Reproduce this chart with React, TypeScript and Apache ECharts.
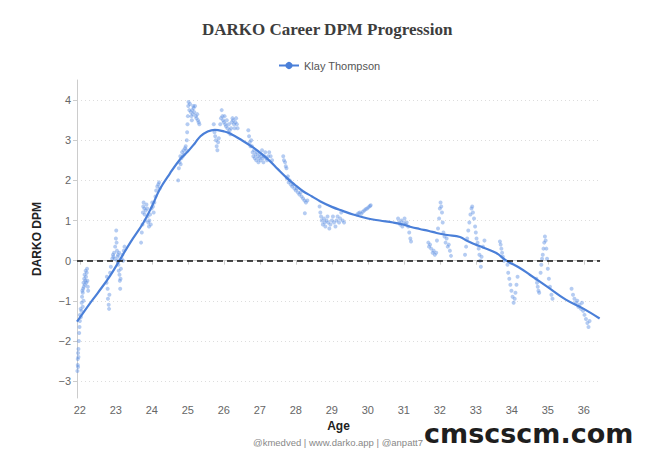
import React, { useEffect, useRef } from "react";
import * as echarts from "echarts";

const playerName = "Klay Thompson";

// smoothed career trend: [age, DPM]
const trendAges = [
  21.92, 22.25, 22.5, 22.83, 23.11, 23.4, 23.76, 24.0, 24.22, 24.5, 24.78, 25.0, 25.19, 25.35,
  25.55, 25.75, 26.0, 26.17, 26.5, 26.81, 27.05, 27.28, 27.5, 27.74, 28.0, 28.2, 28.45, 28.67,
  29.0, 29.3, 29.59, 30.0, 30.33, 30.7, 30.98, 31.2, 31.44, 31.7, 31.91, 32.2, 32.56, 32.74,
  33.0, 33.2, 33.57, 33.85, 34.2, 34.5, 35.0, 35.5, 36.0, 36.44,
];
const trendDpm = [
  -1.52, -1.1, -0.8, -0.39, 0.02, 0.45, 0.94, 1.35, 1.78, 2.17, 2.52, 2.72, 2.92, 3.1,
  3.22, 3.26, 3.22, 3.17, 3.0, 2.82, 2.66, 2.48, 2.28, 2.07, 1.87, 1.73, 1.6, 1.48,
  1.34, 1.24, 1.15, 1.05, 1.0, 0.95, 0.9, 0.84, 0.79, 0.74, 0.69, 0.64, 0.59, 0.5,
  0.4, 0.33, 0.19, 0.0, -0.17, -0.35, -0.66, -0.97, -1.2, -1.44,
];

// daily DARKO estimates: [age, DPM]
const dailyPoints = [
  [21.93, -2.75], [21.94, -2.6], [21.94, -2.45], [21.95, -2.3], [21.95, -2.65], [21.96, -2.4], [21.96, -2.2],
  [21.97, -2.0], [21.98, -1.8], [21.99, -1.65], [22.0, -1.5], [22.0, -1.35], [22.02, -1.2],
  [22.03, -1.4], [22.04, -1.25], [22.05, -1.05], [22.06, -0.9], [22.07, -0.75], [22.08, -0.8], [22.09, -0.7],
  [22.1, -0.55], [22.11, -0.65], [22.12, -0.45], [22.13, -0.35], [22.14, -0.6], [22.15, -0.5], [22.16, -0.25],
  [22.17, -0.4], [22.18, -0.55], [22.19, -0.3], [22.2, -0.2], [22.21, -0.5], [22.22, -0.65], [22.23, -0.75],
  [22.1, -1.0], [22.08, -1.15],
  [22.74, -0.55], [22.75, -0.4], [22.77, -0.7], [22.78, -0.95], [22.8, -1.1], [22.81, -1.2], [22.82, -0.85],
  [22.84, -0.3], [22.86, -0.15],
  [22.9, 0.05], [22.92, 0.15], [22.93, 0.1], [22.95, 0.2], [22.97, 0.05], [22.98, 0.35], [23.0, 0.55],
  [23.01, 0.75], [23.02, 0.45], [23.03, 0.25], [23.04, 0.0], [23.05, 0.1], [23.07, -0.1], [23.08, -0.25],
  [23.1, -0.35], [23.11, -0.5], [23.12, -0.7], [23.13, -0.45], [23.14, -0.2], [23.16, 0.05], [23.18, 0.15],
  [23.2, 0.0], [23.22, 0.25], [23.24, 0.35], [23.06, 0.15], [23.09, 0.2],
  [23.7, 0.45], [23.72, 0.7], [23.74, 0.9], [23.75, 1.2], [23.76, 1.35], [23.77, 1.45], [23.79, 1.3],
  [23.8, 1.15], [23.82, 1.0], [23.83, 1.25], [23.85, 1.4], [23.87, 1.3], [23.88, 1.1], [23.9, 0.95],
  [23.92, 0.85], [23.93, 1.0], [23.95, 1.15], [23.97, 0.9], [23.99, 1.3], [24.01, 1.45], [24.03, 1.35],
  [24.05, 1.2], [24.07, 1.45], [24.1, 1.6], [24.12, 1.75], [24.15, 1.85], [24.18, 1.9], [24.2, 1.95], [24.22, 1.8],
  [24.73, 2.0], [24.75, 2.3], [24.77, 2.45], [24.79, 2.6], [24.8, 2.4], [24.82, 2.55], [24.84, 2.7],
  [24.86, 2.6], [24.88, 2.75], [24.9, 2.65], [24.92, 2.8], [24.94, 2.85], [24.96, 2.75],
  [24.97, 3.0], [24.98, 3.2], [24.99, 3.4], [25.0, 3.6], [25.01, 3.85], [25.02, 3.95], [25.04, 3.75],
  [25.06, 3.9], [25.08, 3.7], [25.1, 3.6], [25.12, 3.75], [25.14, 3.65], [25.16, 3.8], [25.18, 3.7],
  [25.2, 3.85], [25.22, 3.6], [25.24, 3.55], [25.26, 3.65], [25.28, 3.5], [25.3, 3.45], [25.32, 3.4],
  [25.11, 3.5], [25.15, 3.85],
  [25.72, 3.4], [25.74, 3.2], [25.76, 3.1], [25.78, 3.0], [25.8, 2.85], [25.82, 2.75], [25.84, 2.95], [25.86, 3.05],
  [25.9, 3.4], [25.92, 3.55], [25.94, 3.75], [25.96, 3.6], [25.98, 3.5], [26.0, 3.45], [26.02, 3.6],
  [26.04, 3.4], [26.06, 3.35], [26.08, 3.5], [26.1, 3.3], [26.12, 3.2], [26.14, 3.4], [26.16, 3.25],
  [26.18, 3.15], [26.2, 3.3], [26.22, 3.45], [26.24, 3.55], [26.26, 3.5], [26.28, 3.4], [26.3, 3.3],
  [26.32, 3.45], [26.34, 3.55], [26.36, 3.4], [26.38, 3.3],
  [26.68, 3.25], [26.7, 3.1], [26.72, 2.95], [26.74, 2.85], [26.76, 3.0],
  [26.78, 2.85], [26.8, 2.7], [26.82, 2.6], [26.84, 2.75], [26.86, 2.55], [26.88, 2.65], [26.9, 2.5],
  [26.92, 2.7], [26.94, 2.6], [26.96, 2.45], [26.98, 2.55], [27.0, 2.65], [27.02, 2.5], [27.04, 2.6],
  [27.06, 2.75], [27.08, 2.55], [27.1, 2.45], [27.12, 2.6], [27.15, 2.7], [27.18, 2.55], [27.2, 2.5],
  [27.23, 2.6], [27.26, 2.7], [27.3, 2.6], [27.34, 2.5],
  [27.65, 2.6], [27.67, 2.5], [27.7, 2.45], [27.72, 2.35], [27.74, 2.3],
  [27.75, 2.05], [27.78, 2.1], [27.8, 1.95], [27.83, 2.0], [27.86, 1.9], [27.9, 1.85], [27.93, 1.9],
  [27.96, 1.8], [28.0, 1.75], [28.03, 1.8], [28.06, 1.7], [28.1, 1.65], [28.13, 1.7], [28.16, 1.6],
  [28.2, 1.55], [28.24, 1.5], [28.28, 1.45], [28.32, 1.5], [28.25, 1.18],
  [28.66, 1.35], [28.68, 1.2], [28.7, 1.1], [28.72, 1.0], [28.75, 0.9], [28.78, 1.05], [28.8, 0.95],
  [28.82, 0.85], [28.85, 1.0], [28.88, 1.1], [28.9, 0.95], [28.93, 0.8], [28.96, 0.9], [29.0, 1.0],
  [29.03, 1.1], [29.06, 0.95], [29.1, 0.85], [29.13, 1.0], [29.16, 1.1], [29.2, 0.95], [29.23, 1.05],
  [29.26, 1.2], [29.3, 1.0], [29.34, 0.95],
  [29.7, 1.15], [29.74, 1.18], [29.78, 1.2], [29.82, 1.17], [29.86, 1.22], [29.9, 1.25], [29.94, 1.28],
  [29.98, 1.3], [30.02, 1.33], [30.06, 1.36], [30.08, 1.38],
  [30.84, 1.05], [30.87, 0.95], [30.9, 0.9], [30.93, 1.0], [30.96, 0.85], [30.99, 0.95], [31.02, 1.05],
  [31.05, 0.9], [31.08, 0.95], [31.12, 0.85], [31.15, 0.7], [31.18, 0.55], [31.2, 0.48],
  [31.68, 0.45], [31.7, 0.35], [31.73, 0.4], [31.76, 0.3], [31.8, 0.2], [31.83, 0.25], [31.86, 0.15], [31.9, 0.2],
  [31.92, 0.5], [31.95, 0.8], [31.98, 1.05], [32.0, 1.3], [32.02, 1.45], [32.04, 1.35], [32.06, 1.2],
  [32.08, 0.95], [32.1, 0.7], [32.13, 0.6], [32.16, 0.45], [32.19, 0.55], [32.22, 0.35], [32.25, 0.4],
  [32.28, 0.25], [32.31, 0.12],
  [32.7, 0.15], [32.73, 0.35], [32.76, 0.55], [32.79, 0.75], [32.82, 0.95], [32.85, 1.15], [32.88, 1.3],
  [32.9, 1.35], [32.92, 1.2], [32.95, 1.05], [32.98, 0.85], [33.0, 0.7], [33.02, 0.55], [33.05, 0.45],
  [33.08, 0.3], [33.1, 0.15], [33.12, 0.0], [33.14, -0.15], [33.16, 0.1], [33.2, 0.35], [33.24, 0.5],
  [33.67, 0.48], [33.69, 0.4], [33.71, 0.3], [33.73, 0.2], [33.75, 0.1], [33.78, 0.0],
  [33.88, -0.1], [33.9, -0.3], [33.93, -0.45], [33.96, -0.6], [33.99, -0.75], [34.02, -0.9], [34.05, -1.05],
  [34.08, -0.95], [34.1, -0.8], [34.13, -0.6], [34.16, -0.4],
  [34.68, -0.45], [34.7, -0.55], [34.72, -0.65], [34.74, -0.75], [34.76, -0.8],
  [34.8, -0.3], [34.82, -0.1], [34.84, 0.05], [34.86, 0.15], [34.88, 0.3], [34.9, 0.45], [34.92, 0.6],
  [34.94, 0.5], [34.96, 0.3], [34.98, 0.05], [35.0, -0.2], [35.03, -0.45], [35.06, -0.65], [35.1, -0.85], [35.13, -0.95],
  [35.66, -0.7], [35.7, -0.85], [35.74, -0.95], [35.78, -1.05], [35.82, -1.0], [35.85, -1.15], [35.88, -1.1],
  [35.92, -1.2], [35.95, -1.05], [35.98, -1.25], [36.02, -1.35], [36.06, -1.45], [36.1, -1.55], [36.13, -1.65], [36.16, -1.5],
];

const App = () => {
  const chartRef = useRef<HTMLDivElement>(null);

  useEffect(() => {
    document.body.style.margin = "0";
    const chart = echarts.init(chartRef.current, null, { renderer: "svg" });

    const option = {
      animation: false,
      backgroundColor: "#ffffff",
      title: {
        text: "DARKO Career DPM Progression",
        left: 197,
        top: 16,
        textStyle: { fontFamily: "Liberation Serif", fontWeight: "bold", fontSize: 17, color: "#3d3d3d" },
      },
      legend: {
        data: [playerName],
        top: 55,
        left: 273,
        itemWidth: 20,
        itemHeight: 9,
        itemGap: 6,
        textStyle: { fontFamily: "Liberation Sans", fontSize: 11, color: "#555" },
      },
      grid: { left: 77, right: 60, top: 80, bottom: 63 },
      xAxis: {
        type: "value",
        min: 21.92,
        max: 36.45,
        splitNumber: 14,
        minInterval: 1,
        maxInterval: 1,
        name: "Age",
        nameLocation: "middle",
        nameGap: 21,
        nameTextStyle: { fontFamily: "Liberation Sans", fontWeight: "bold", fontSize: 12, color: "#222" },
        axisLine: { show: true, lineStyle: { color: "#ccc" } },
        axisTick: { show: true, length: 4, lineStyle: { color: "#ccc" } },
        axisLabel: {
          showMinLabel: false,
          showMaxLabel: false,
          fontFamily: "Liberation Sans",
          fontSize: 11,
          color: "#666",
          margin: 6,
        },
        splitLine: { show: false },
      },
      yAxis: {
        type: "value",
        min: -3.42,
        max: 4.5,
        splitNumber: 8,
        minInterval: 1,
        maxInterval: 1,
        name: "DARKO DPM",
        nameLocation: "middle",
        nameGap: 34,
        nameTextStyle: { fontFamily: "Liberation Sans", fontWeight: "bold", fontSize: 12, color: "#222" },
        axisLine: { show: true, lineStyle: { color: "#ccc" } },
        axisTick: { show: true, length: 4, lineStyle: { color: "#ccc" } },
        axisLabel: {
          showMinLabel: false,
          showMaxLabel: false,
          fontFamily: "Liberation Sans",
          fontSize: 11,
          color: "#666",
          margin: 6,
          formatter: (v: number) => String(v).replace("-", "\u2212"),
        },
        splitLine: {
          show: true,
          showMinLine: false,
          showMaxLine: false,
          lineStyle: { color: "#ddd", type: [1, 3] },
        },
      },
      series: [
        {
          name: "daily",
          type: "scatter",
          data: dailyPoints,
          symbolSize: 4,
          itemStyle: { color: "#5a8de2", opacity: 0.45 },
          silent: true,
          z: 2,
          markLine: {
            silent: true,
            symbol: "none",
            label: { show: false },
            lineStyle: { color: "#111", type: [6, 4], width: 1.6 },
            data: [{ yAxis: 0 }],
          },
        },
        {
          name: playerName,
          type: "line",
          data: trendAges.map((a, i) => [a, trendDpm[i]]),
          smooth: 0.4,
          symbol: "circle",
          symbolSize: 5,
          showSymbol: false,
          lineStyle: { color: "#4a7fd8", width: 2.2 },
          itemStyle: { color: "#4a7fd8" },
          z: 3,
        },
      ],
      graphic: [
        {
          type: "text",
          x: 338,
          y: 442,
          style: {
            text: "@kmedved | www.darko.app | @anpatt7",
            fontFamily: "Liberation Sans",
            fontSize: 9.5,
            fill: "#888",
            align: "center",
            verticalAlign: "middle",
          },
        },
        {
          type: "text",
          x: 424,
          y: 433,
          style: {
            text: "cmscscm.com",
            fontFamily: "DejaVu Sans",
            fontWeight: "bold",
            fontSize: 27,
            fill: "#1e1e1e",
            align: "left",
            verticalAlign: "middle",
          },
        },
      ],
    };

    chart.setOption(option);
    return () => {
      chart.dispose();
    };
  }, []);

  return <div ref={chartRef} style={{ width: 660, height: 461, backgroundColor: "white" }} />;
};

export default App;
